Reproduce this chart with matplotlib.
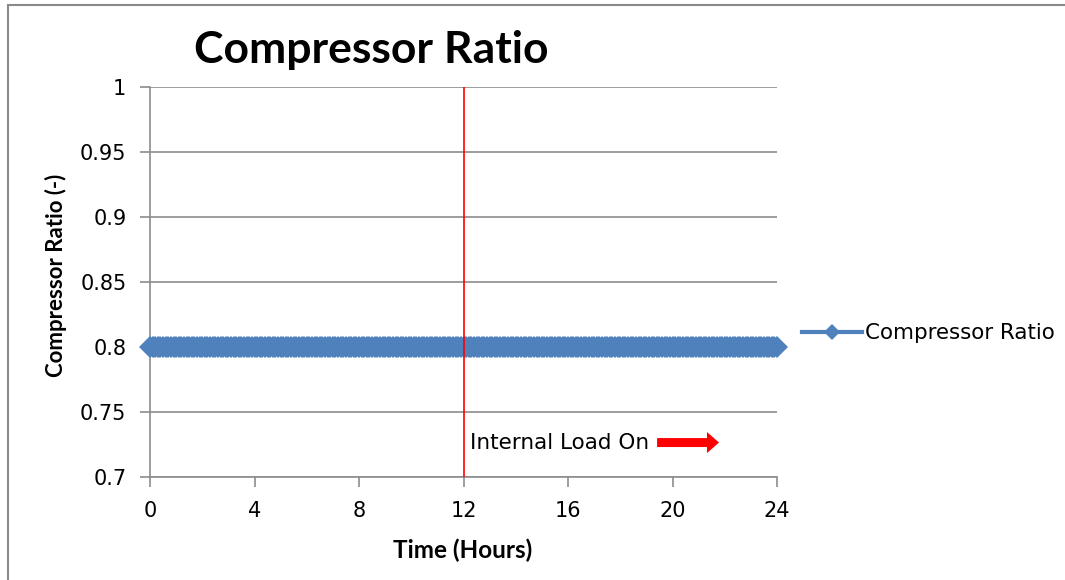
import numpy as np
import matplotlib
matplotlib.use("Agg")
import matplotlib.pyplot as plt
from matplotlib.patches import FancyArrow
from matplotlib.lines import Line2D

REGULAR = ['DejaVu Sans']
BOLD = ['Lato', 'DejaVu Sans']
plt.rcParams['font.family'] = REGULAR

# Simulation output: compressor ratio sampled every 0.1 h over a day
time_step_h = 0.1
hours = np.arange(0, 24 + time_step_h / 2, time_step_h)
compressor_ratio = [0.8] * len(hours)

load_on_hour = 12
x_ticks = [0, 4, 8, 12, 16, 20, 24]
y_ticks = [0.7, 0.75, 0.8, 0.85, 0.9, 0.95, 1.0]
y_tick_labels = ['0.7', '0.75', '0.8', '0.85', '0.9', '0.95', '1']

series_color = '#4F81BD'
grid_color = '#8C8C8C'

W, H = 1065, 580
fig = plt.figure(figsize=(W / 100, H / 100), dpi=100)
ax = fig.add_axes([150 / W, 1 - 477 / H, (777 - 150) / W, (477 - 87) / H])

ax.plot(hours, compressor_ratio, color=series_color, lw=3,
        marker='D', markersize=11, markeredgewidth=0, clip_on=False, zorder=3)
ax.axvline(load_on_hour, color='red', lw=1.2, zorder=4)

ax.set_xlim(0, 24)
ax.set_ylim(0.7, 1.0)
ax.set_xticks(x_ticks)
ax.set_xticklabels([str(t) for t in x_ticks])
ax.set_yticks(y_ticks)
ax.set_yticklabels(y_tick_labels)
ax.yaxis.grid(True, color=grid_color, lw=1.2)
ax.set_axisbelow(True)
for side in ('top', 'right'):
    ax.spines[side].set_visible(False)
for side in ('left', 'bottom'):
    ax.spines[side].set_color(grid_color)
    ax.spines[side].set_linewidth(1.2)
ax.tick_params(axis='both', colors=grid_color, labelcolor='black',
               labelsize=15, length=7, width=1.2, direction='out')
ax.tick_params(axis='x', pad=10)
ax.tick_params(axis='y', pad=10)

# Titles and axis labels
fig.text(371 / W, 1 - 63 / H, 'Compressor Ratio', family=BOLD, fontsize=32,
         fontweight='bold', ha='center', va='baseline')
fig.text(463 / W, 1 - 558 / H, 'Time (Hours)', family=BOLD, fontsize=17.5,
         fontweight='bold', ha='center', va='baseline')
fig.text(56 / W, 1 - 275 / H, 'Compressor Ratio (-)', family=BOLD,
         fontsize=16, fontweight='bold', ha='center', va='center',
         rotation=90)

# Annotation for the internal load switching on
ax.text(12.25, 0.7265, 'Internal Load On', fontsize=15.5, ha='left',
        va='center')
ax.add_patch(FancyArrow(19.41, 0.7265, 2.37, 0, width=0.0069,
                        head_width=0.0162, head_length=0.46,
                        length_includes_head=True, color='red', lw=0,
                        zorder=5))

# Legend entry to the right of the plot area
legend_handle = Line2D([0], [0], color=series_color, lw=3, marker='D',
                       markersize=8.5, markeredgewidth=0)
fig.legend([legend_handle], ['Compressor Ratio'], loc='center left',
           bbox_to_anchor=(802 / W, 1 - 333 / H), frameon=False,
           fontsize=15.4, handlelength=2.8, handletextpad=0.15,
           borderpad=0, borderaxespad=0)

# Chart frame (top and left edges visible)
fig.add_artist(plt.Rectangle((8 / W, -0.1), 1.2, 1 - 5 / H + 0.1,
                             transform=fig.transFigure, fill=False,
                             edgecolor='#8A8A8A', lw=1.5))

fig.savefig('out.png', dpi=100, facecolor='white')
